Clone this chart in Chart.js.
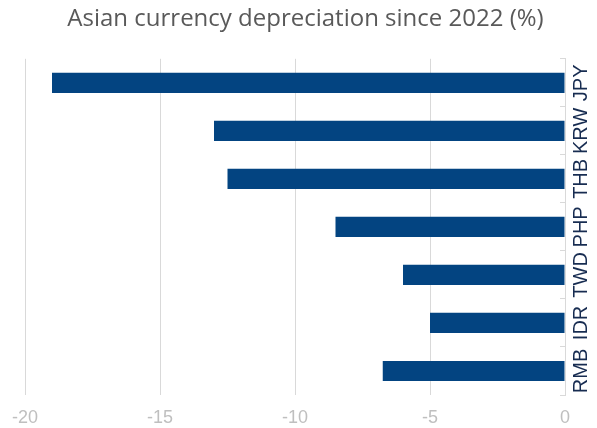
<!DOCTYPE html>
<html>
<head>
<meta charset="utf-8">
<script src="https://cdn.jsdelivr.net/npm/chart.js@4"></script>
<style>
  html, body { margin: 0; padding: 0; background: #fff; }
  #wrap { width: 597px; height: 428px; position: relative; }
</style>
</head>
<body>
<div id="wrap"><canvas id="chart"></canvas></div>
<script>
// ---- data ----
const currencies = ["JPY", "KRW", "THB", "PHP", "TWD", "IDR", "RMB"];
const depreciation = [-19.0, -13.0, -12.5, -8.5, -6.0, -5.0, -6.75];
const xTicks = [-20, -15, -10, -5, 0];

const titleText = "Asian currency depreciation since 2022 (%)";
const barColor = "#034481";

new Chart(document.getElementById("chart"), {
  type: "bar",
  data: {
    labels: currencies,
    datasets: [{
      data: depreciation,
      backgroundColor: barColor,
      barPercentage: 0.42,
      categoryPercentage: 1
    }]
  },
  options: {
    indexAxis: "y",
    responsive: true,
    maintainAspectRatio: false,
    animation: false,
    layout: { padding: { left: 14, right: 0, top: 0, bottom: 0 } },
    plugins: {
      legend: { display: false },
      tooltip: { enabled: false },
      title: {
        display: true,
        text: titleText,
        color: "#595959",
        font: { family: "'Open Sans', sans-serif", size: 24, weight: "normal" },
        padding: { top: 5, bottom: 25 }
      }
    },
    scales: {
      x: {
        min: xTicks[0],
        max: xTicks[xTicks.length - 1],
        afterBuildTicks: s => { s.ticks = xTicks.map(v => ({ value: v })); },
        grid: { color: "#d9d9d9", drawTicks: false },
        border: { display: false },
        ticks: {
          color: "#bfbfbf",
          padding: 12,
          font: { family: "'Liberation Sans', Arial, sans-serif", size: 18 }
        },
        afterFit: s => { s.height = 33; }
      },
      y: {
        position: "right",
        grid: {
          drawOnChartArea: false,
          offset: true,
          tickLength: -5, // tick marks point into the plot, like the original
          color: "#d9d9d9"
        },
        border: { color: "#d9d9d9" },
        ticks: {
          autoSkip: false,
          minRotation: 90,
          maxRotation: 90,
          crossAlign: "center",
          padding: -2,
          color: "#172c51",
          font: { family: "'Liberation Sans', Arial, sans-serif", size: 20 }
        },
        afterFit: s => {
          // rotated labels: keep a fixed strip on the right, no extra end padding
          s.width = 32;
          s.paddingTop = 0;
          s.paddingBottom = 0;
        }
      }
    }
  }
});
</script>
</body>
</html>
